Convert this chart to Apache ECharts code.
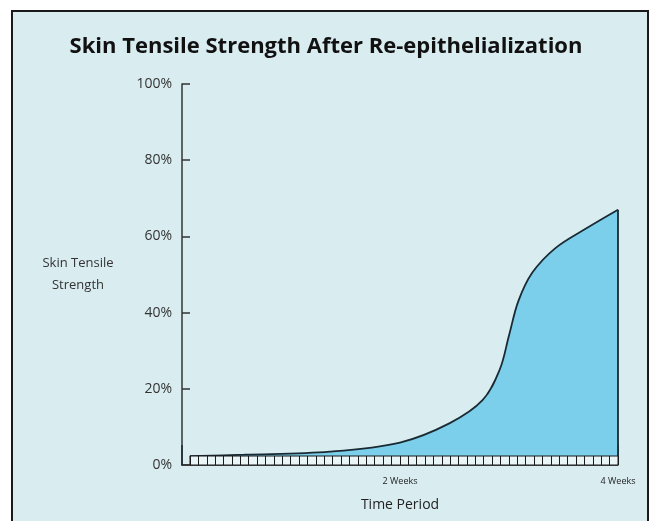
<!DOCTYPE html>
<html>
<head>
<meta charset="utf-8">
<title>Skin Tensile Strength</title>
<script src="https://cdn.jsdelivr.net/npm/echarts@6/dist/echarts.min.js"></script>
<style>
    html, body { margin: 0; padding: 0; background: #ffffff; }
    #main { width: 652px; height: 521px; }
</style>
</head>
<body>
<div id="main"></div>
<script>
    // 曲线数据：天数 / 强度(%)
    var days = [0.5, 4, 9.5, 14, 17.2, 19.3, 20.4, 21.0, 21.6, 22.5, 24.0, 26.0, 28];
    var strength = [2.3, 2.7, 3.5, 5.9, 11, 17, 25, 34, 43, 50.5, 57, 62.2, 67];
    var yTicks = [0, 20, 40, 60, 80, 100];
    var xTickLabels = { 14: '2 Weeks', 28: '4 Weeks' };
    var rulerCells = 51;

    var curve = days.map(function (d, i) { return [d, strength[i]]; });
    var last = days.length - 1;

    var myChart = echarts.init(document.getElementById('main'));

    var option = {
        backgroundColor: '#ffffff',
        textStyle: { fontFamily: 'Open Sans' },
        title: {
            text: 'Skin Tensile Strength After Re-epithelialization',
            left: 'center',
            top: 31,
            textStyle: { fontFamily: 'Open Sans', fontWeight: 'bold', fontSize: 22, color: '#111' }
        },
        graphic: [{
            type: 'rect',
            z: -10,
            shape: { x: 12, y: 11, width: 636, height: 530 },
            style: { fill: '#d9edf1', stroke: '#1a1a1a', lineWidth: 2 }
        }],
        grid: [
            { left: 182, right: 34, top: 84, bottom: 56 },
            { left: 190, right: 34, top: 456, height: 9, show: true, z: 5,
              backgroundColor: '#e9f5f7', borderColor: '#1a1a1a', borderWidth: 1 }
        ],
        xAxis: [{
            type: 'value', gridIndex: 0, min: 0, max: 28, interval: 14,
            name: 'Time Period', nameLocation: 'middle', nameGap: 33,
            nameTextStyle: { fontSize: 14, color: '#222' },
            axisLine: { lineStyle: { color: '#1a1a1a', width: 1.5 } },
            axisTick: { inside: true, length: 20, lineStyle: { color: '#1a2a33', width: 1.5 } },
            splitLine: { show: false },
            axisLabel: {
                fontSize: 9, color: '#222', margin: 12, showMaxLabel: true,
                formatter: function (v) { return xTickLabels[v] || ''; }
            }
        }, {
            type: 'value', gridIndex: 1, min: 0, max: rulerCells, interval: 1, z: 5,
            axisLine: { show: false }, axisTick: { show: false }, axisLabel: { show: false },
            splitLine: { show: true, lineStyle: { color: '#1a1a1a', width: 1 } }
        }],
        yAxis: [{
            type: 'value', gridIndex: 0, min: yTicks[0], max: yTicks[yTicks.length - 1], interval: 20,
            name: 'Skin Tensile\nStrength', nameLocation: 'middle', nameRotate: 0, nameGap: 104,
            nameTextStyle: { fontSize: 13, color: '#333', align: 'center', lineHeight: 22, padding: [0, 0, 18, 0] },
            axisLine: { show: true, lineStyle: { color: '#333', width: 1.5 } },
            axisTick: { show: true, inside: true, length: 8, lineStyle: { color: '#333', width: 1.5 } },
            splitLine: { show: false },
            axisLabel: { fontSize: 14, color: '#333', margin: 10, formatter: '{value}%' }
        }, {
            type: 'value', gridIndex: 1, min: 0, max: 1, show: false
        }],
        series: [{
            name: 'Strength',
            type: 'line',
            xAxisIndex: 0, yAxisIndex: 0,
            data: curve,
            smooth: 0.35,
            symbol: 'none',
            z: 2,
            lineStyle: { color: '#1a2a33', width: 1.8 },
            areaStyle: { color: '#7ccfeb', opacity: 1 }
        }, {
            name: 'edge',
            type: 'line',
            xAxisIndex: 0, yAxisIndex: 0,
            data: [[days[last], 0], [days[last], strength[last]]],
            symbol: 'none',
            z: 3,
            lineStyle: { color: '#1a2a33', width: 1.8 }
        }]
    };

    myChart.setOption(option);
</script>
</body>
</html>
